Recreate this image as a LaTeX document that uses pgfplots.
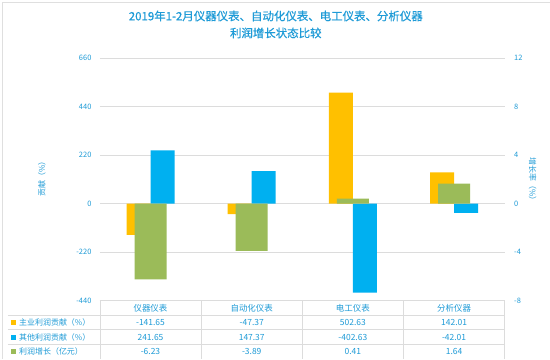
\documentclass[border=0pt]{standalone}
\usepackage{pgfplots}
\pgfplotsset{compat=1.18}
\usepackage{fontspec}
\setmainfont{Noto Sans CJK SC}
\newfontfamily\titlefont{Noto Sans CJK SC}[FakeBold=0.6]
\definecolor{yel}{HTML}{FFC000}
\definecolor{blu}{HTML}{00B0F0}
\definecolor{grn}{HTML}{9BBB59}
\definecolor{txtc}{HTML}{1E9BD7}
\definecolor{gridc}{HTML}{DCDCDC}
\begin{document}
\begin{tikzpicture}[x=1bp,y=1bp]
\fill[white] (0,0) rectangle (550,359);
\draw[gray!25, line width=0.8pt] (2,0) -- (2,357) -- (550,357);
\node[text=txtc, font=\titlefont\fontsize{11.5}{13}\selectfont] at (276,343) {2019年1-2月仪器仪表、自动化仪表、电工仪表、分析仪器};
\node[text=txtc, font=\titlefont\fontsize{11.5}{13}\selectfont] at (276,326) {利润增长状态比较};
\begin{axis}[at={(100bp,58bp)}, anchor=south west, width=405bp, height=243bp, scale only axis,
  xmin=-0.5, xmax=3.5, ymin=-440, ymax=660, ytick={-440,-220,0,220,440,660}, xtick=\empty,
  ymajorgrids, grid style={draw=gridc, line width=0.7pt}, axis line style={draw=none}, major tick length=0pt,
  ybar=0pt, bar width=24bp,
  yticklabel style={font=\fontsize{7.5}{8}\selectfont, text=txtc, xshift=-5bp},
  /pgf/number format/assume math mode=true, clip=false]
\addplot[fill=yel, draw=none] coordinates {(0,-141.65) (1,-47.37) (2,502.63) (3,142.01)};
\addplot[fill=blu, draw=none] coordinates {(0,241.65) (1,147.37) (2,-402.63) (3,-42.01)};
\end{axis}
\begin{axis}[at={(100bp,58bp)}, anchor=south west, width=405bp, height=243bp, scale only axis,
  xmin=-0.5, xmax=3.5, ymin=-8, ymax=12, ytick={-8,-4,0,4,8,12}, xtick=\empty, yticklabel pos=right,
  axis line style={draw=none}, major tick length=0pt,
  ybar, bar width=32bp,
  yticklabel style={font=\fontsize{7.5}{8}\selectfont, text=txtc, xshift=6bp},
  /pgf/number format/assume math mode=true]
\addplot[fill=grn, draw=none] coordinates {(0,-6.23) (1,-3.89) (2,0.41) (3,1.64)};
\end{axis}
\node[rotate=90, text=txtc, font=\fontsize{8}{9}\selectfont] at (42,182) {贡献（\%）};
\node[rotate=-90, text=txtc, font=\fontsize{8}{9}\selectfont] at (533,178) {增长率（\%）};
% data table
\begin{scope}[gridc, line width=0.7pt]
\draw (100,58) -- (505,58);
\draw (8,43) -- (505,43);
\draw (8,29) -- (505,29);
\draw (8,14) -- (505,14);
\foreach \x in {100,201.25,302.5,403.75,505} \draw (\x,58) -- (\x,0);
\end{scope}
\begin{scope}[font=\fontsize{8.5}{9}\selectfont, text=txtc]
\node at (150.6,50.5) {仪器仪表};
\node at (251.9,50.5) {自动化仪表};
\node at (353.1,50.5) {电工仪表};
\node at (454.4,50.5) {分析仪器};
\node at (150.6,36) {-141.65};
\node at (251.9,36) {-47.37};
\node at (353.1,36) {502.63};
\node at (454.4,36) {142.01};
\node at (150.6,21.5) {241.65};
\node at (251.9,21.5) {147.37};
\node at (353.1,21.5) {-402.63};
\node at (454.4,21.5) {-42.01};
\node at (150.6,7) {-6.23};
\node at (251.9,7) {-3.89};
\node at (353.1,7) {0.41};
\node at (454.4,7) {1.64};
\end{scope}
\begin{scope}[font=\fontsize{8}{9}\selectfont, text=txtc]
\fill[yel] (11.5,33.5) rectangle (16.5,38.5);
\fill[blu] (11.5,19) rectangle (16.5,24);
\fill[grn] (11.5,4.5) rectangle (16.5,9.5);
\node[anchor=west, inner sep=0pt] at (19,36) {主业利润贡献（\%）};
\node[anchor=west, inner sep=0pt] at (19,21.5) {其他利润贡献（\%）};
\node[anchor=west, inner sep=0pt] at (19,7) {利润增长（亿元）};
\end{scope}
\end{tikzpicture}
\end{document}
